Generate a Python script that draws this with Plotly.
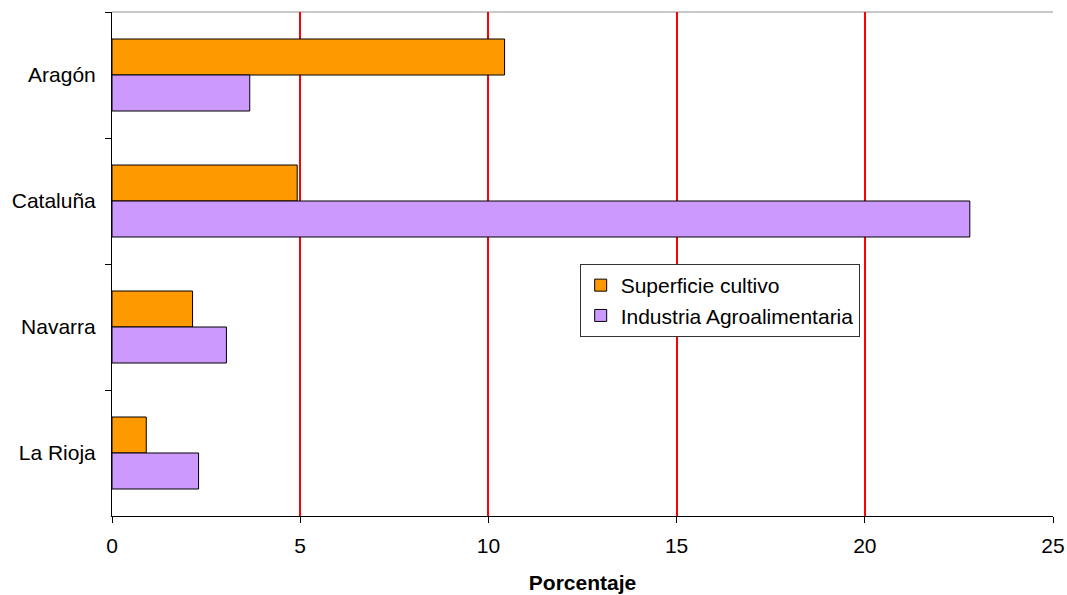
import plotly.graph_objects as go

regions = ["Aragón", "Cataluña", "Navarra", "La Rioja"]
superficie = [10.43, 4.92, 2.14, 0.91]
industria = [3.66, 22.79, 3.04, 2.30]
x_ticks = [0, 5, 10, 15, 20, 25]

FONT = "Arial, 'Liberation Sans', sans-serif"

fig = go.Figure()
fig.add_trace(go.Bar(
    y=regions, x=superficie, orientation="h", name="Superficie cultivo",
    marker=dict(color="#FF9900", line=dict(color="#000000", width=1)),
))
fig.add_trace(go.Bar(
    y=regions, x=industria, orientation="h", name="Industria Agroalimentaria",
    marker=dict(color="#CC99FF", line=dict(color="#000000", width=1)),
))

fig.update_layout(
    width=1067, height=595,
    margin=dict(l=112, r=14, t=12, b=79, autoexpand=False),
    paper_bgcolor="white", plot_bgcolor="white",
    barmode="group", bargap=0.4286, bargroupgap=0,
    font=dict(family=FONT, size=21, color="black"),
    showlegend=True,
    legend=dict(
        x=0.497, y=0.4276, xanchor="left", yanchor="middle",
        bgcolor="white", bordercolor="#333333", borderwidth=1,
        font=dict(family=FONT, size=21, color="black"),
        itemwidth=30, tracegroupgap=0,
    ),
    xaxis=dict(
        range=[0, 25], tickvals=x_ticks, ticktext=[str(v) for v in x_ticks],
        showgrid=True, gridcolor="#FF0000", gridwidth=2,
        showline=True, linecolor="black", linewidth=1,
        ticks="outside", ticklen=6, tickcolor="black", tickwidth=1,
        ticklabelstandoff=5, ticklabeloverflow="allow",
        zeroline=False,
        title=dict(text="<b>Porcentaje</b>", font=dict(family=FONT, size=21, color="black"), standoff=19),
        automargin=False,
    ),
    yaxis=dict(
        autorange="reversed",
        showgrid=False,
        showline=True, linecolor="black", linewidth=1,
        ticks="outside", ticklen=6, tickcolor="black", tickwidth=1,
        tickson="boundaries",
        ticklabelstandoff=11,
        automargin=False,
    ),
    shapes=[dict(type="line", xref="paper", yref="paper", x0=0, x1=1, y0=1, y1=1,
                 line=dict(color="#909090", width=1), layer="below")],
)

fig.write_html(
    "out.html",
    config={"displayModeBar": False},
    post_script="document.body.style.margin='0px';document.body.style.overflow='hidden';",
)
